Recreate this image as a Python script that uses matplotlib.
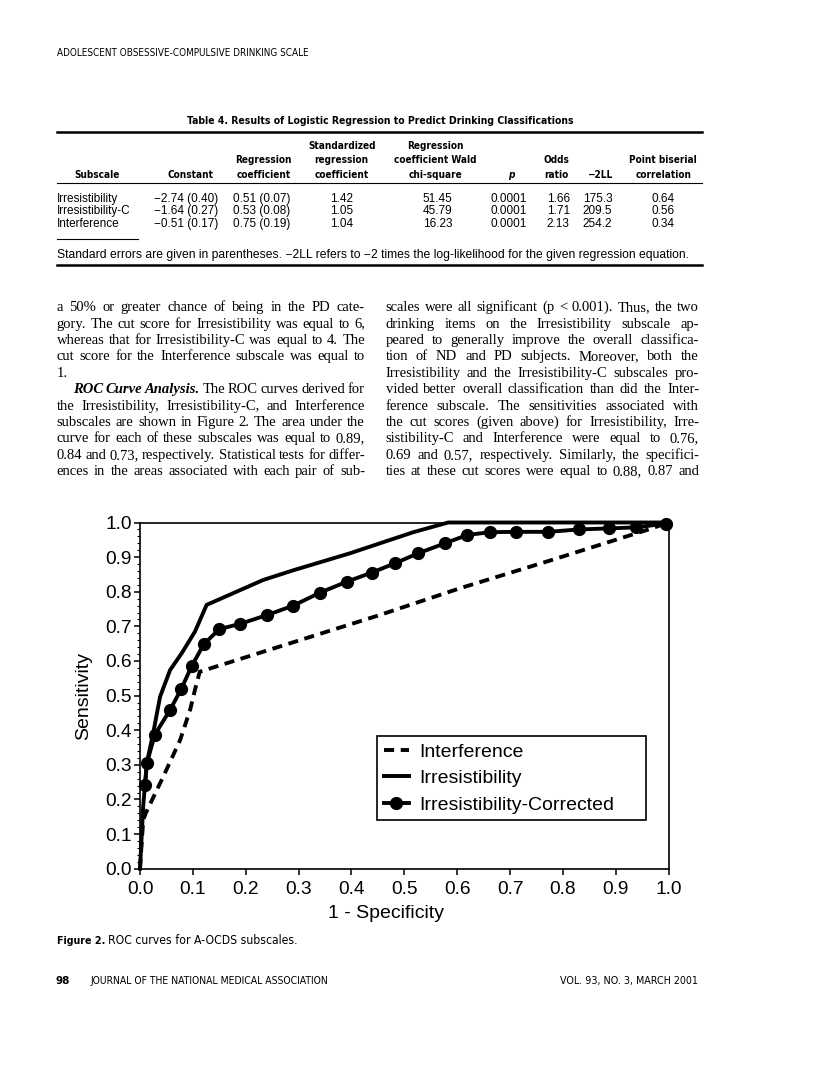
import numpy as np
import matplotlib
matplotlib.use("Agg")
import matplotlib.pyplot as plt
from matplotlib import font_manager
from matplotlib.lines import Line2D

W, H = 816, 1073

# ROC curves
interf_fpr = [0.0, 0.006, 0.011, 0.044, 0.076, 0.095, 0.104, 0.113, 0.454, 0.605, 0.769, 0.958, 1.0]
interf_tpr = [0.0, 0.14, 0.161, 0.266, 0.372, 0.46, 0.517, 0.569, 0.733, 0.810, 0.887, 0.978, 1.0]

irr_fpr = [0.0, 0.006, 0.013, 0.025, 0.038, 0.057, 0.080, 0.104, 0.126, 0.233, 0.290, 0.397, 0.517, 0.583, 1.0]
irr_tpr = [0.0, 0.18, 0.306, 0.392, 0.497, 0.574, 0.625, 0.685, 0.762, 0.834, 0.862, 0.911, 0.972, 1.0, 1.0]

cor_fpr = [0.0095, 0.013, 0.028, 0.057, 0.078, 0.098, 0.121, 0.150, 0.189, 0.241, 0.290, 0.340, 0.391,
           0.438, 0.482, 0.526, 0.577, 0.619, 0.662, 0.711, 0.772, 0.831, 0.888, 0.939, 0.995]
cor_tpr = [0.242, 0.305, 0.387, 0.459, 0.519, 0.586, 0.649, 0.692, 0.707, 0.733, 0.760, 0.797, 0.829,
           0.855, 0.882, 0.911, 0.940, 0.964, 0.972, 0.973, 0.973, 0.980, 0.983, 0.986, 0.997]

xticks = [0.0, 0.1, 0.2, 0.3, 0.4, 0.5, 0.6, 0.7, 0.8, 0.9, 1.0]
yticks = [0.0, 0.1, 0.2, 0.3, 0.4, 0.5, 0.6, 0.7, 0.8, 0.9, 1.0]

# Table 4
subscales = ["Irresistibility", "Irresistibility-C", "Interference"]
constant = ["\u22122.74 (0.40)", "\u22121.64 (0.27)", "\u22120.51 (0.17)"]
reg_coef = ["0.51 (0.07)", "0.53 (0.08)", "0.75 (0.19)"]
std_coef = ["1.42", "1.05", "1.04"]
wald = ["51.45", "45.79", "16.23"]
p_vals = ["0.0001", "0.0001", "0.0001"]
odds = ["1.66", "1.71", "2.13"]
ll2 = ["175.3", "209.5", "254.2"]
pbis = ["0.64", "0.56", "0.34"]
headers = [["Subscale"], ["Constant"], ["Regression", "coefficient"],
           ["Standardized", "regression", "coefficient"],
           ["Regression", "coefficient Wald", "chi-square"], ["p"],
           ["Odds", "ratio"], ["\u22122LL"], ["Point biserial", "correlation"]]

left_lines = [
    "a 50% or greater chance of being in the PD cate-",
    "gory. The cut score for Irresistibility was equal to 6,",
    "whereas that for Irresistibility-C was equal to 4. The",
    "cut score for the Interference subscale was equal to",
    "1.",
    "*ROC *Curve *Analysis. The ROC curves derived for",
    "the Irresistibility, Irresistibility-C, and Interference",
    "subscales are shown in Figure 2. The area under the",
    "curve for each of these subscales was equal to 0.89,",
    "0.84 and 0.73, respectively. Statistical tests for differ-",
    "ences in the areas associated with each pair of sub-",
]
right_lines = [
    "scales were all significant (p < 0.001). Thus, the two",
    "drinking items on the Irresistibility subscale ap-",
    "peared to generally improve the overall classifica-",
    "tion of ND and PD subjects. Moreover, both the",
    "Irresistibility and the Irresistibility-C subscales pro-",
    "vided better overall classification than did the Inter-",
    "ference subscale. The sensitivities associated with",
    "the cut scores (given above) for Irresistibility, Irre-",
    "sistibility-C and Interference were equal to 0.76,",
    "0.69 and 0.57, respectively. Similarly, the specifici-",
    "ties at these cut scores were equal to 0.88, 0.87 and",
]

# condensed sans for the journal's headings if one is installed
fonts = font_manager.fontManager.ttflist
if any(f.name == "Liberation Sans Narrow" for f in fonts):
    cond = dict(family="Liberation Sans Narrow")
elif any(f.name == "DejaVu Sans" and f.stretch == "condensed" for f in fonts):
    cond = dict(family="DejaVu Sans", stretch="condensed")
else:
    cond = dict(family="Liberation Sans")
plt.rcParams["font.family"] = "Liberation Sans"

fig = plt.figure(figsize=(W / 100, H / 100), dpi=100)
renderer = fig.canvas.get_renderer()


def fx(x):
    return x / W


def fy(y):
    return 1 - y / H


def base(y, size):
    # y is the visual middle of the line; put the baseline below it
    return fy(y + 0.36 * size * 100 / 72)


def fit(x, y, s, width, ha="left", **kw):
    t = fig.text(fx(x), fy(y), s, ha=ha, va="baseline", **kw)
    bb = t.get_window_extent(renderer)
    t.set_fontsize(t.get_fontsize() * width / bb.width)
    t.set_y(base(y, t.get_fontsize()))
    return t


def fit_size(s, width, **kw):
    t = fig.text(0, 0, s, **kw)
    size = t.get_fontsize() * width / t.get_window_extent(renderer).width
    t.remove()
    return size


def rule(x0, x1, y, lw):
    fig.add_artist(Line2D([fx(x0), fx(x1)], [fy(y), fy(y)], color="black", lw=lw,
                          transform=fig.transFigure))


# page header
fit(57, 52, "ADOLESCENT OBSESSIVE-COMPULSIVE DRINKING SCALE", 251, **cond)

# table
fit(186.7, 120, "Table 4. Results of Logistic Regression to Predict Drinking Classifications", 383,
    weight="bold", **cond)
rule(56.7, 701.7, 131.7, 1.8)
rule(56.7, 701.7, 182.5, 0.8)
rule(56.7, 138.3, 238.5, 0.8)
rule(56.7, 701.7, 264.5, 1.8)

hsize = fit_size("Point biserial", 66.7, weight="bold", **cond)
hx = [96.7, 190, 263.3, 341.7, 435.7, 511.7, 556.7, 600, 663.3]
for cx, lines in zip(hx, headers):
    for k, s in enumerate(reversed(lines)):
        fig.text(fx(cx), base(174 - 14.5 * k, hsize), s, ha="center", va="baseline",
                 weight="bold", fontsize=hsize, style="italic" if s == "p" else "normal", **cond)

dsize = fit_size("Irresistibility-C", 74, family="Liberation Sans")
dx = [186, 261.7, 341.7, 437.3, 508.3, 558.3, 597.5, 663.3]
row_y = [197.3, 210, 222.5]
for i, ry in enumerate(row_y):
    fig.text(fx(56.7), base(ry, dsize), subscales[i], ha="left", va="baseline", fontsize=dsize)
    vals = [constant[i], reg_coef[i], std_coef[i], wald[i], p_vals[i], odds[i], ll2[i], pbis[i]]
    for cx, v in zip(dx, vals):
        fig.text(fx(cx), base(ry, dsize), v, ha="center", va="baseline", fontsize=dsize)

fit(56.7, 253.5, "Standard errors are given in parentheses. \u22122LL refers to \u22122 times the "
    "log-likelihood for the given regression equation.", 633)

# body text, justified word by word
BODY = 10.5


def put_line(line, x0, x1, y, justify=True):
    words = line.split(" ")
    texts, widths = [], []
    for w in words:
        kw = dict(family="Liberation Serif", fontsize=BODY)
        if w.startswith("*"):
            w = w[1:]
            kw.update(weight="bold", style="italic")
        t = fig.text(0, base(y, BODY), w, ha="left", va="baseline", **kw)
        texts.append(t)
        widths.append(t.get_window_extent(renderer).width)
    if justify and len(words) > 1:
        gap = (x1 - x0 - sum(widths)) / (len(words) - 1)
    else:
        gap = BODY * 100 / 72 * 0.25
    x = x0
    for t, w in zip(texts, widths):
        t.set_x(fx(x))
        x += w + gap


for i, line in enumerate(left_lines):
    x0 = 56.7 + (16 if i == 5 else 0)
    put_line(line, x0, 365, 306 + 16.4 * i, justify=(i != 4))
for i, line in enumerate(right_lines):
    put_line(line, 385.5, 699, 306 + 16.4 * i)

# ROC chart
ax = fig.add_axes([fx(140), fy(868.7), 528.7 / W, 346.2 / H])
ax.plot(interf_fpr, interf_tpr, color="black", lw=2.8, ls=(0, (2.6, 1.7)),
        label="Interference", clip_on=False)
ax.plot(irr_fpr, irr_tpr, color="black", lw=2.8, label="Irresistibility", clip_on=False)
ax.plot(cor_fpr, cor_tpr, color="black", lw=2.8, marker="o", ms=8.5,
        label="Irresistibility-Corrected", clip_on=False)

ax.set_xlim(0, 1)
ax.set_ylim(0, 1)
ax.set_xticks(xticks)
ax.set_xticklabels([f"{v:.1f}" for v in xticks])
ax.set_yticks(yticks)
ax.set_yticklabels([f"{v:.1f}" for v in yticks])
ax.set_yticks(np.arange(0, 1.001, 0.02), minor=True)
ax.tick_params(axis="both", which="major", direction="out", length=4.5, width=1.1,
               labelsize=13.8, pad=1.5)
ax.tick_params(axis="y", which="minor", direction="out", length=2, width=0.8)
ax.tick_params(axis="x", which="major", pad=4)
for s in ax.spines.values():
    s.set_linewidth(1.2)

ax.set_xlabel("1 - Specificity", fontsize=14, va="center")
ax.xaxis.set_label_coords((386 - 140) / 528.7, (868.7 - 913) / 346.2)
ax.set_ylabel("Sensitivity", fontsize=14, va="center")
ax.yaxis.set_label_coords((83.5 - 140) / 528.7, (868.7 - 696) / 346.2)

leg = ax.legend(loc="upper left", bbox_to_anchor=(0.448, 0.113, 0.510, 0.269), mode="expand",
                borderaxespad=0, fancybox=False, edgecolor="black", framealpha=1,
                prop={"family": "Liberation Sans", "size": 14}, handlelength=1.3,
                handletextpad=0.55, borderpad=0.35, labelspacing=0.45, numpoints=1)
leg.get_frame().set_linewidth(1.2)

# caption and footer
fit(57, 940, "Figure 2.", 48, weight="bold", **cond)
fit(108, 940, "ROC curves for A-OCDS subscales.", 190, **cond)
j = fit(91, 980, "JOURNAL OF THE NATIONAL MEDICAL ASSOCIATION", 241, **cond)
fig.text(fx(55), base(980, j.get_fontsize() * 1.1), "98", ha="left", va="baseline",
         weight="bold", fontsize=j.get_fontsize() * 1.1, **cond)
fit(560, 980, "VOL. 93, NO. 3, MARCH 2001", 138, **cond)

fig.savefig("out.png", dpi=100)
